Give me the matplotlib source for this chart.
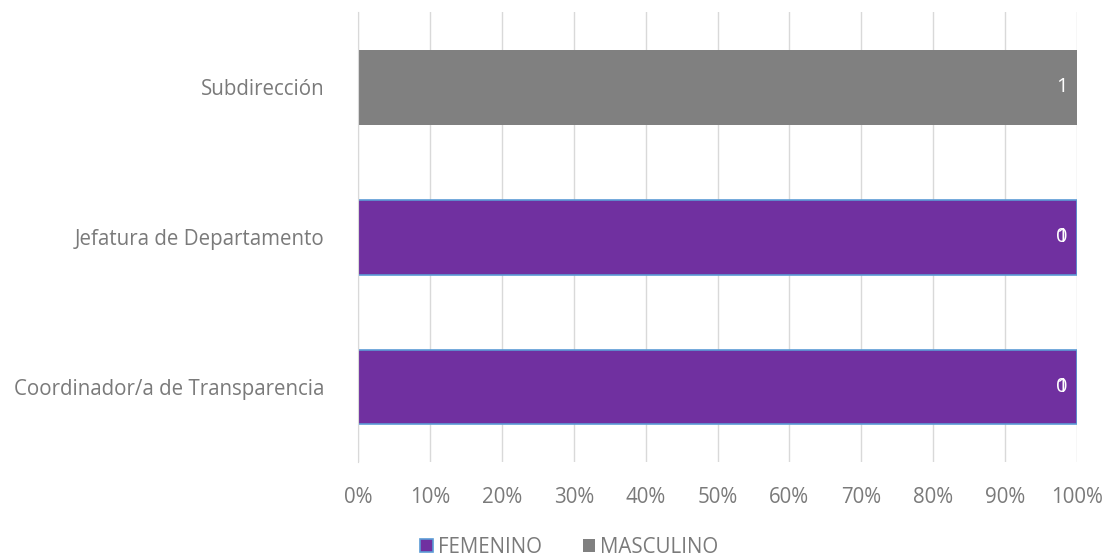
import numpy as np
import matplotlib.pyplot as plt

plt.rcParams['font.family'] = ['Open Sans', 'DejaVu Sans']

categories = ['Coordinador/a de Transparencia', 'Jefatura de Departamento', 'Subdirección']
femenino = [1, 1, 0]
masculino = [0, 0, 1]

fem = np.array(femenino, dtype=float)
mas = np.array(masculino, dtype=float)
total = fem + mas
fem_pct = fem / total * 100
mas_pct = mas / total * 100

fig = plt.figure(figsize=(11.06, 5.57), dpi=100)
ax = fig.add_axes([0.3237, 0.1706, 0.6501, 0.8074])

y = np.arange(len(categories))
ax.barh(y, fem_pct, height=0.5, color='#7030A0', edgecolor='#5B9BD5',
        linewidth=1.2, label='FEMENINO', zorder=3)
ax.barh(y, mas_pct, left=fem_pct, height=0.5, color='#808080',
        label='MASCULINO', zorder=3)

# data labels at inside end of each segment
for i in range(len(categories)):
    ax.text(fem_pct[i] - 1.3, y[i], str(femenino[i]), color='white',
            ha='right', va='center', fontsize=14.5, zorder=4)
    ax.text(fem_pct[i] + mas_pct[i] - 1.3, y[i], str(masculino[i]), color='white',
            ha='right', va='center', fontsize=14.5, zorder=4)

ax.set_xlim(0, 100)
ax.set_ylim(-0.5, 2.5)
ax.set_xticks(np.arange(0, 101, 10))
ax.set_xticklabels([f'{v}%' for v in range(0, 101, 10)])
ax.set_yticks(y)
ax.set_yticklabels(categories)
ax.tick_params(axis='both', length=0, colors='#7a7a7a', labelsize=14.8)
ax.tick_params(axis='x', pad=18)
ax.tick_params(axis='y', pad=24)
ax.xaxis.grid(True, color='#D9D9D9', linewidth=1, zorder=0)
for s in ['top', 'right', 'bottom']:
    ax.spines[s].set_visible(False)
ax.spines['left'].set_color('#D9D9D9')
ax.spines['left'].set_zorder(5)

fig.legend(loc='lower center', bbox_to_anchor=(0.515, -0.035), ncol=2,
           frameon=False, fontsize=14.8, labelcolor='#7a7a7a',
           handlelength=0.6, handleheight=0.6, handletextpad=0.25, columnspacing=2.0)

fig.savefig('out.png', dpi=100)
